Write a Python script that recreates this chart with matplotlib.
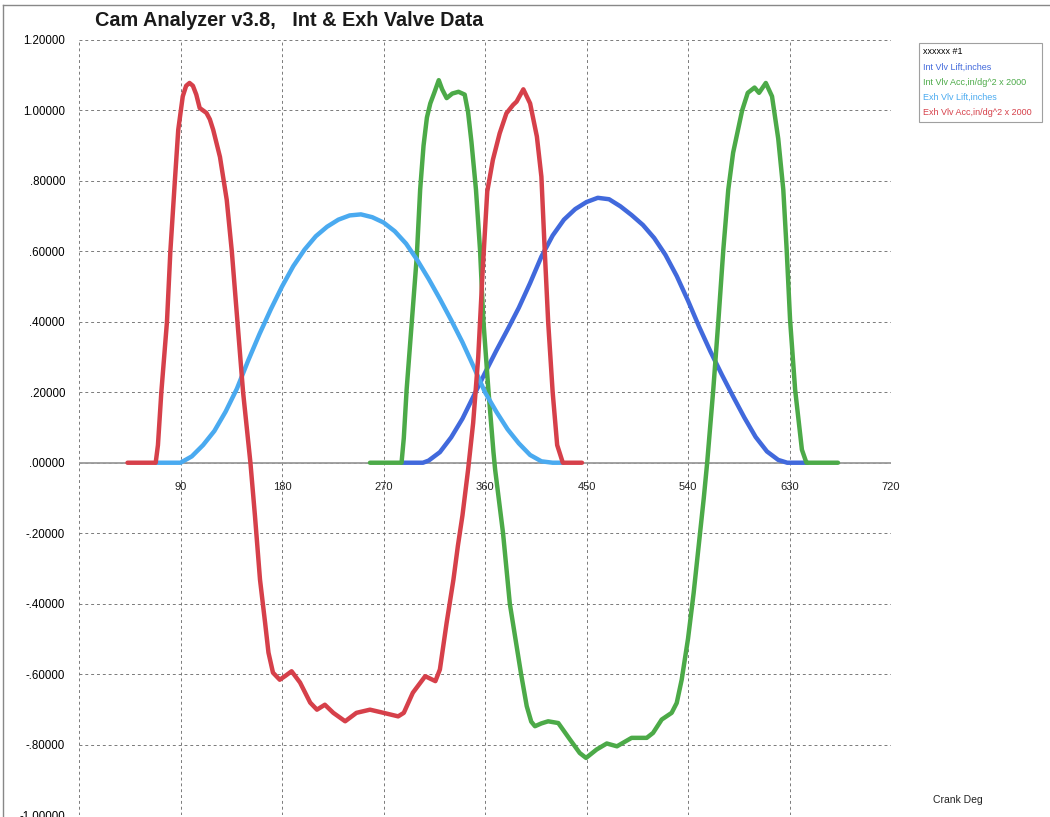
#!/usr/bin/env python

# plot.py - redraw the Cam Analyzer valve lift and acceleration chart

# require
import matplotlib
matplotlib.use( 'Agg' )
import matplotlib.pyplot as plt
from matplotlib.lines import Line2D

# configure
OUTPUT = 'out.png'
TITLE  = 'Cam Analyzer v3.8,   Int & Exh Valve Data'

# data, crank degrees and values
int_lift_deg = [ 286, 300, 305, 310, 320, 330, 340, 350, 360, 370, 380, 390, 400, 410, 420, 430, 440, 450, 460, 470,
                 480, 490, 500, 510, 520, 530, 540, 550, 560, 570, 580, 590, 600, 610, 620, 628, 646 ]
int_lift     = [ 0, 0, 0, 0.006, 0.03, 0.072, 0.125, 0.19, 0.255, 0.318, 0.378, 0.44, 0.51, 0.585, 0.645, 0.69, 0.72, 0.74, 0.752, 0.748,
                 0.728, 0.703, 0.675, 0.638, 0.59, 0.53, 0.46, 0.385, 0.315, 0.25, 0.188, 0.128, 0.073, 0.032, 0.008, 0, 0 ]

int_acc_deg  = [ 258, 286, 288, 290.5, 295, 299.5, 302.5, 305.5, 308.5, 311.5, 315, 319, 322, 326, 331, 336.5, 342, 345, 348, 352,
                 355.6, 358.5, 363, 367.5, 369, 376, 382, 392, 397, 401, 404.3, 410, 416, 425, 435.4, 444, 449.6, 459, 468, 477,
                 490, 503.4, 509, 516.7, 525.5, 530, 534.4, 540, 545, 550, 554, 557, 562.4, 567, 571.3, 575.7, 580, 588, 593, 599,
                 603, 609, 614.5, 620, 624.5, 627.5, 630.5, 635, 641, 645, 673 ]
int_acc      = [ 0, 0, 0.07, 0.207, 0.396, 0.585, 0.775, 0.9, 0.98, 1.02, 1.05, 1.086, 1.06, 1.035, 1.048, 1.053, 1.045, 0.995, 0.91, 0.775,
                 0.604, 0.406, 0.207, 0.03, -0.02, -0.2, -0.4, -0.6, -0.691, -0.735, -0.748, -0.74, -0.734, -0.739, -0.786, -0.824, -0.838, -0.814, -0.797, -0.805,
                 -0.781, -0.781, -0.767, -0.729, -0.71, -0.682, -0.616, -0.5, -0.37, -0.22, -0.1, 0, 0.207, 0.406, 0.604, 0.775, 0.88, 1.0, 1.05, 1.065,
                 1.05, 1.078, 1.04, 0.92, 0.775, 0.604, 0.406, 0.207, 0.037, 0, 0 ]

exh_lift_deg = [ 68, 80, 90, 100, 110, 120, 130, 140, 150, 160, 170, 180, 190, 200, 210, 220, 230, 240, 250, 260,
                 270, 280, 290, 300, 310, 320, 330, 340, 350, 360, 370, 380, 390, 400, 410, 420, 429 ]
exh_lift     = [ 0, 0, 0, 0.018, 0.05, 0.09, 0.145, 0.21, 0.29, 0.365, 0.435, 0.5, 0.558, 0.605, 0.643, 0.67, 0.69, 0.702, 0.705, 0.697,
                 0.682, 0.657, 0.622, 0.575, 0.522, 0.465, 0.405, 0.342, 0.272, 0.2, 0.145, 0.095, 0.055, 0.022, 0.004, 0, 0 ]

exh_acc_deg  = [ 43, 68, 70, 73, 78, 81, 85, 88, 92, 95, 98, 101, 104, 107, 110, 113, 116, 119, 125, 131,
                 135.5, 140.5, 145.5, 152, 156, 160.5, 165, 168, 172, 178, 183, 188.5, 196, 205, 211, 218, 225.5, 236, 246, 258,
                 270, 283, 288, 296, 307, 316, 320, 326, 332, 336, 340, 345, 349.5, 354, 358, 362, 367, 373, 379, 385,
                 388, 394, 400, 406, 410, 413, 416, 420, 424, 429, 446 ]
exh_acc      = [ 0, 0, 0.05, 0.2, 0.4, 0.6, 0.8, 0.945, 1.04, 1.07, 1.078, 1.07, 1.045, 1.007, 1.0, 0.993, 0.975, 0.945, 0.868, 0.746,
                 0.6, 0.4, 0.2, 0, -0.15, -0.332, -0.454, -0.539, -0.596, -0.616, -0.605, -0.592, -0.624, -0.681, -0.701, -0.687, -0.71, -0.734, -0.71, -0.701,
                 -0.71, -0.72, -0.71, -0.653, -0.606, -0.62, -0.587, -0.454, -0.332, -0.235, -0.15, -0.02, 0.113, 0.3, 0.55, 0.77, 0.86, 0.935, 0.992, 1.016,
                 1.025, 1.06, 1.02, 0.926, 0.812, 0.6, 0.4, 0.2, 0.05, 0, 0 ]

labels  = [ 'Int Vlv Lift,inches', 'Int Vlv Acc,in/dg^2 x 2000', 'Exh Vlv Lift,inches', 'Exh Vlv Acc,in/dg^2 x 2000' ]
colors  = [ '#4169dc', '#4caa48', '#4aaaf0', '#d6404a' ]
x_ticks = [ 0, 90, 180, 270, 360, 450, 540, 630, 720 ]
y_ticks = [ -1.0, -0.8, -0.6, -0.4, -0.2, 0.0, 0.2, 0.4, 0.6, 0.8, 1.0, 1.2 ]

# the scanned report looks like Arial
plt.rcParams[ 'font.family' ] = [ 'Liberation Sans', 'DejaVu Sans' ]

figure = plt.figure( figsize=( 10.5, 8.17 ), dpi=100 )
axes   = figure.add_axes( [ 79 / 1050, 2 / 817, 812 / 1050, 775 / 817 ] )

# the four curves
series = [ ( int_lift_deg, int_lift ), ( int_acc_deg, int_acc ), ( exh_lift_deg, exh_lift ), ( exh_acc_deg, exh_acc ) ]
for ( x, y ), label, color in zip( series, labels, colors ) :
	axes.plot( x, y, color=color, lw=3.2, label=label, solid_joinstyle='round', solid_capstyle='round', zorder=3 )

# axes, grid and zero line
axes.set_xlim( 0, 720 )
axes.set_ylim( -1.0, 1.2 )
axes.set_xticks( x_ticks )
axes.set_yticks( y_ticks )
axes.set_xticklabels( [] )
axes.set_yticklabels( [ ( '%.5f' % v ).replace( '0.', '.', 1 ) if abs( v ) < 1 else '%.5f' % v for v in y_ticks ], fontsize=8.3 )
axes.tick_params( length=0, pad=10 )
axes.tick_params( axis='x', bottom=False, labelbottom=False )
axes.grid( True, color='#7a7a7a', linestyle=( 0, ( 3, 3 ) ), lw=0.7 )
for spine in axes.spines.values() : spine.set_visible( False )
axes.axhline( 0, color='#9a9a9a', lw=1.3, zorder=2 )

# crank degree labels sit just under the zero line
for tick in x_ticks[ 1: ] :
	axes.annotate( str( tick ), ( tick, 0 ), xytext=( 0, -17.5 ), textcoords='offset points',
	               ha='center', va='center', fontsize=8, color='#222222' )

# legend, top right, outside the plot
legend = axes.legend( loc='upper left', bbox_to_anchor=( 914 / 1050, 1 - 122 / 817, 133 / 1050, 84 / 817 ),
                      bbox_transform=figure.transFigure, mode='expand', title='xxxxxx #1', alignment='left',
                      fontsize=6.5, title_fontsize=6.5, handlelength=0, handletextpad=0, labelcolor='linecolor',
                      frameon=True, fancybox=False, edgecolor='#888888', borderpad=0.5, labelspacing=0.7 )
legend.get_frame().set_linewidth( 0.8 )
for handle in legend.legend_handles : handle.set_visible( False )

# title and axis caption
figure.text( 95 / 1050, 1 - 20 / 817, TITLE, fontsize=14.3, fontweight='bold', ha='left', va='center', color='#1a1a1a' )
figure.text( 958 / 1050, 1 - 800 / 817, 'Crank Deg', fontsize=7.5, ha='center', va='center', color='#222222' )

# page border of the scan
figure.add_artist( Line2D( [ 3 / 1050, 3 / 1050 ], [ 0, 1 - 5 / 817 ], transform=figure.transFigure, color='#888888', lw=1 ) )
figure.add_artist( Line2D( [ 3 / 1050, 1 ], [ 1 - 5 / 817, 1 - 5 / 817 ], transform=figure.transFigure, color='#888888', lw=1 ) )

# done
figure.savefig( OUTPUT, dpi=100 )
